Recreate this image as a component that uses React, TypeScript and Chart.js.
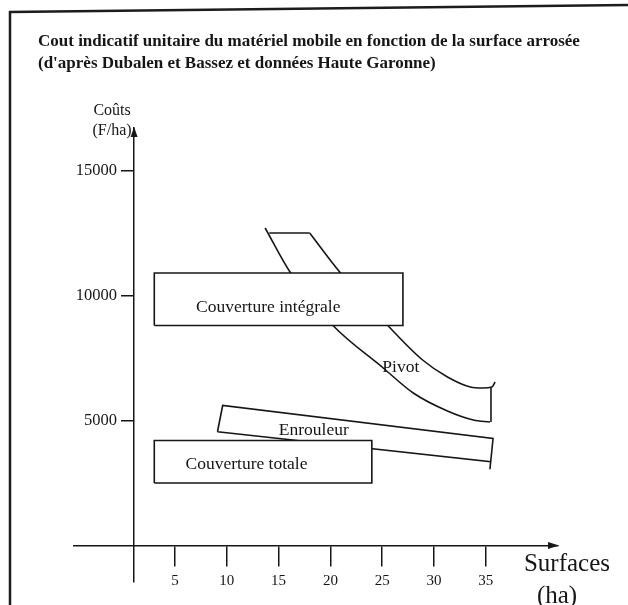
import React, { useEffect, useRef } from "react";
import { Chart, registerables } from "chart.js";

Chart.register(...registerables);

// ---------- data ----------
const xTickValues = [5, 10, 15, 20, 25, 30, 35];
const yTickValues = [5000, 10000, 15000];

const integraleX = [3, 27, 27, 3, 3];
const integraleY = [8800, 8800, 10900, 10900, 8800];

const totaleX = [3, 24, 24, 3, 3];
const totaleY = [2500, 2500, 4200, 4200, 2500];

const enrouleurX = [9.1, 9.6, 35.7, 35.4, 35.47, 9.1];
const enrouleurY = [4550, 5600, 4280, 3050, 3350, 4550];

const pivotLeftX = [13.7, 16.1, 20.2, 25.1, 28.0, 31.3, 33.8, 35.4];
const pivotLeftY = [12700, 10940, 8820, 7100, 6100, 5380, 5020, 4940];
const pivotTopX = [14.1, 18.0];
const pivotTopY = [12500, 12500];
const pivotRightX = [18.0, 20.9, 25.5, 28.9, 31.3, 33.5, 34.7, 35.6, 35.9];
const pivotRightY = [12500, 10940, 8820, 7420, 6740, 6340, 6300, 6340, 6540];
const pivotEdgeX = [35.5, 35.5];
const pivotEdgeY = [6300, 4940];

const titleLines = [
  "Cout indicatif unitaire du matériel mobile en fonction de la surface arrosée",
  "(d'après Dubalen et Bassez et données Haute Garonne)",
];
const yAxisTitle = ["Coûts", "(F/ha)"];
const xAxisTitle = ["Surfaces", "(ha)"];
const zoneNames = ["Couverture intégrale", "Couverture totale", "Enrouleur", "Pivot"];
const zoneNameX = [14.0, 11.9, 18.4, 26.8];
const zoneNameY = [9540, 3260, 4620, 7140];

const X_MIN = -4.75;
const X_MAX = 41.97;
const Y_MIN = -1460;
const Y_MAX = 16700;
const Y_AXIS_AT = 1.05;
const Y_LABELS_AT = -0.6;

const SERIF = '"Liberation Serif", "Times New Roman", serif';
const INK = "#161616";

const pts = (xs: number[], ys: number[]) => xs.map((x, i) => ({ x, y: ys[i] }));

const decorPlugin = {
  id: "decor",
  beforeDraw(chart: any) {
    const { ctx } = chart;
    ctx.save();
    ctx.fillStyle = "#ffffff";
    ctx.fillRect(0, 0, chart.width, chart.height);
    ctx.strokeStyle = "#1c1c1c";
    ctx.lineWidth = 2.5;
    ctx.beginPath();
    ctx.moveTo(10, 605);
    ctx.lineTo(10, 12);
    ctx.lineTo(628, 5);
    ctx.stroke();
    ctx.restore();
  },
  afterDraw(chart: any) {
    const { ctx, chartArea } = chart;
    const xs = chart.scales.x;
    const ys = chart.scales.y;
    const axX = xs.getPixelForValue(Y_AXIS_AT);
    const axY = ys.getPixelForValue(0);
    ctx.save();
    ctx.fillStyle = INK;
    // arrows
    ctx.beginPath();
    ctx.moveTo(axX, chartArea.top - 1);
    ctx.lineTo(axX - 3.5, chartArea.top + 9);
    ctx.lineTo(axX + 3.5, chartArea.top + 9);
    ctx.closePath();
    ctx.fill();
    ctx.beginPath();
    ctx.moveTo(chartArea.right + 1, axY);
    ctx.lineTo(chartArea.right - 10, axY - 3.5);
    ctx.lineTo(chartArea.right - 10, axY + 3.5);
    ctx.closePath();
    ctx.fill();

    // title
    ctx.textAlign = "left";
    ctx.textBaseline = "middle";
    ctx.font = `bold 17px ${SERIF}`;
    ctx.fillText(titleLines[0], 38, 42);
    ctx.fillText(titleLines[1], 38, 64);

    // axis titles
    ctx.textAlign = "center";
    ctx.font = `16px ${SERIF}`;
    ctx.fillText(yAxisTitle[0], axX - 22, chartArea.top - 17);
    ctx.fillText(yAxisTitle[1], axX - 22, chartArea.top + 3);
    ctx.font = `25px ${SERIF}`;
    ctx.fillText(xAxisTitle[0], chartArea.right + 9, axY + 19);
    ctx.fillText(xAxisTitle[1], chartArea.right - 1, axY + 51);

    // zone names
    ctx.font = `17.5px ${SERIF}`;
    zoneNames.forEach((name, i) => {
      ctx.fillText(name, xs.getPixelForValue(zoneNameX[i]), ys.getPixelForValue(zoneNameY[i]));
    });
    ctx.restore();
  },
};

export default function App() {
  const ref = useRef<HTMLCanvasElement | null>(null);
  useEffect(() => {
    if (!ref.current) return;
    const line = (data: any[], extra: any = {}) => ({
      data,
      showLine: true,
      pointRadius: 0,
      borderColor: INK,
      borderWidth: 1.6,
      fill: false,
      tension: 0,
      order: 1,
      ...extra,
    });
    const yTicks = (s: any) => {
      s.ticks = yTickValues.map((v) => ({ value: v }));
    };
    const chart = new Chart(ref.current, {
      type: "scatter",
      data: {
        datasets: [
          line(pts(integraleX, integraleY), { fill: "shape", backgroundColor: "#ffffff", order: 0, label: "Couverture intégrale" }),
          line(pts(totaleX, totaleY), { fill: "shape", backgroundColor: "#ffffff", order: 0, label: "Couverture totale" }),
          line(pts(enrouleurX, enrouleurY), { label: "Enrouleur" }),
          line(pts(pivotLeftX, pivotLeftY), { cubicInterpolationMode: "monotone", label: "Pivot" }),
          line(pts(pivotTopX, pivotTopY), { label: "Pivot" }),
          line(pts(pivotRightX, pivotRightY), { cubicInterpolationMode: "monotone", label: "Pivot" }),
          line(pts(pivotEdgeX, pivotEdgeY), { label: "Pivot" }),
        ],
      },
      options: {
        animation: false,
        responsive: false,
        events: [],
        layout: { padding: { left: 74, right: 70, top: 128, bottom: 23 } },
        plugins: { legend: { display: false }, tooltip: { enabled: false }, title: { display: false } },
        scales: {
          x: {
            type: "linear",
            min: X_MIN,
            max: X_MAX,
            position: { y: 0 },
            afterBuildTicks: (s: any) => {
              s.ticks = xTickValues.map((v) => ({ value: v }));
            },
            grid: { drawOnChartArea: false, drawTicks: true, tickLength: 20, color: INK, lineWidth: 1.5 },
            border: { display: true, color: INK, width: 1.5 },
            ticks: {
              font: { family: SERIF, size: 15 },
              color: INK,
              padding: 7,
              maxRotation: 0,
              autoSkip: false,
              callback: (v: any) => String(v),
            },
          },
          y: {
            type: "linear",
            min: Y_MIN,
            max: Y_MAX,
            position: { x: Y_AXIS_AT },
            afterBuildTicks: yTicks,
            grid: { drawOnChartArea: false, drawTicks: true, tickLength: 12, color: INK, lineWidth: 1.5 },
            border: { display: true, color: INK, width: 1.5 },
            ticks: { display: false },
          },
          yLabels: {
            type: "linear",
            axis: "y",
            min: Y_MIN,
            max: Y_MAX,
            position: { x: Y_LABELS_AT },
            afterBuildTicks: yTicks,
            grid: { display: false },
            border: { display: false },
            ticks: {
              font: { family: SERIF, size: 16.5 },
              color: INK,
              autoSkip: false,
              callback: (v: any) => String(v),
            },
          },
        },
      },
      plugins: [decorPlugin],
    });
    return () => chart.destroy();
  }, []);
  return (
    <div style={{ position: "absolute", left: 0, top: 0, width: 628, height: 605, background: "#fff" }}>
      <canvas ref={ref} width={628} height={605} style={{ display: "block", width: 628, height: 605 }} />
    </div>
  );
}
